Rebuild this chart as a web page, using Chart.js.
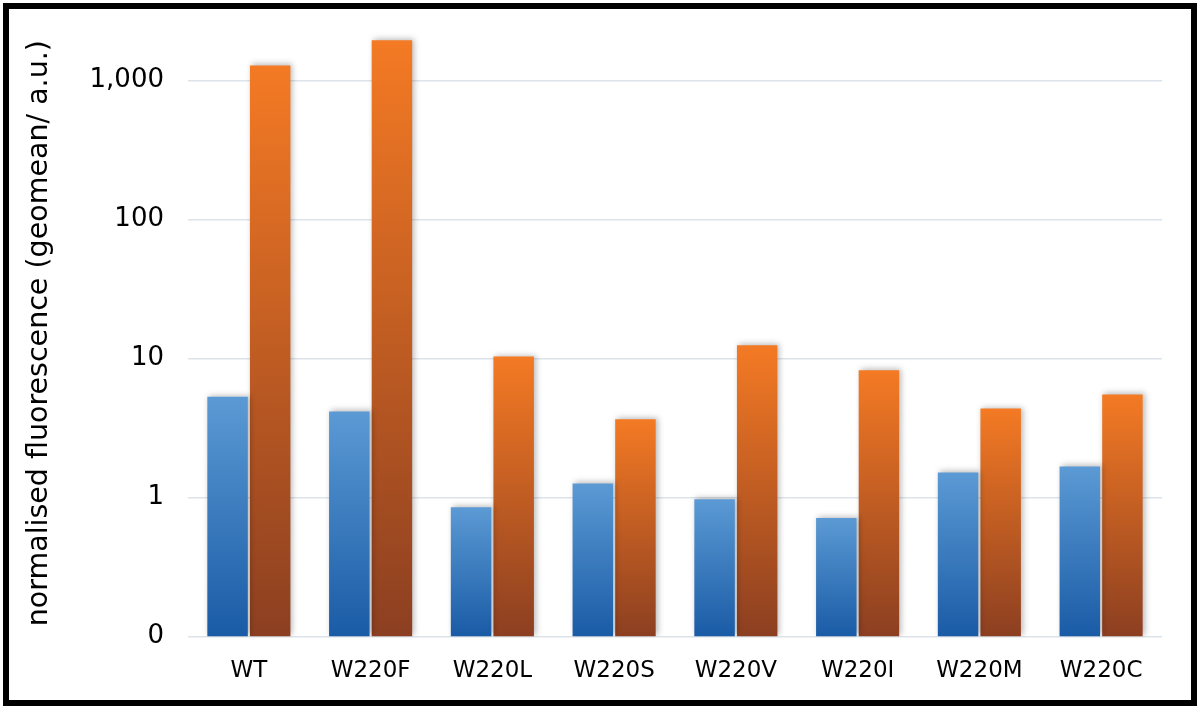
<!DOCTYPE html>
<html>
<head>
<meta charset="utf-8">
<script src="https://cdn.jsdelivr.net/npm/chart.js@4/dist/chart.umd.min.js"></script>
<style>
  html, body { margin: 0; padding: 0; background: #fff; }
  #wrap { width: 1200px; height: 709px; position: relative; }
</style>
</head>
<body>
<div id="wrap"><canvas id="fluoChart" width="1200" height="709"></canvas></div>
<script>
// data
const categories = ['WT', 'W220F', 'W220L', 'W220S', 'W220V', 'W220I', 'W220M', 'W220C'];
const blueValues = [5.3, 4.15, 0.85, 1.26, 0.97, 0.71, 1.51, 1.67];
const orangeValues = [1280, 1940, 10.3, 3.65, 12.4, 8.2, 4.35, 5.5];
const tickValues = [0.1, 1, 10, 100, 1000];
const tickLabels = ['0', '1', '10', '100', '1,000'];

// gradient running down each bar, from its top to the axis
function barGradient(context, topColor, bottomColor) {
    const chart = context.chart;
    const yScale = chart.scales.y;
    if (!chart.chartArea || !yScale || context.parsed === undefined) return topColor;
    const top = yScale.getPixelForValue(context.parsed.y);
    const bottom = chart.chartArea.bottom;
    if (!isFinite(top) || bottom - top < 1) return topColor;
    const g = chart.ctx.createLinearGradient(0, top, 0, bottom);
    g.addColorStop(0, topColor);
    g.addColorStop(1, bottomColor);
    return g;
}

const frame = {
    id: 'frame',
    afterDraw(chart) {
        const c = chart.ctx;
        c.save();
        c.strokeStyle = '#000';
        c.lineWidth = 6;
        c.strokeRect(6, 6, 1188, 697);
        c.restore();
    }
};

const shadow = {
    id: 'shadow',
    beforeDatasetsDraw(chart) {
        const c = chart.ctx;
        c.save();
        c.shadowColor = 'rgba(0,0,0,0.28)';
        c.shadowBlur = 6;
        c.shadowOffsetX = 2;
        c.shadowOffsetY = -1;
    },
    afterDatasetsDraw(chart) {
        chart.ctx.restore();
    }
};

const ctx = document.getElementById('fluoChart').getContext('2d');
const fluoChart = new Chart(ctx, {
    type: 'bar',
    data: {
        labels: categories,
        datasets: [{
            label: 'blue',
            data: blueValues,
            backgroundColor: c => barGradient(c, '#5b9ad4', '#1a5ba6'),
            borderWidth: 0,
            barPercentage: 0.95,
            categoryPercentage: 0.70
        }, {
            label: 'orange',
            data: orangeValues,
            backgroundColor: c => barGradient(c, '#f47a24', '#8c3f21'),
            borderWidth: 0,
            barPercentage: 0.95,
            categoryPercentage: 0.70
        }]
    },
    options: {
        responsive: false,
        animation: false,
        layout: {
            padding: { left: 22, right: 38, top: 30, bottom: 3 }
        },
        scales: {
            x: {
                grid: { display: false, drawTicks: false },
                border: { display: false },
                ticks: {
                    color: '#000',
                    padding: 21,
                    font: { family: 'DejaVu Sans', size: 23 }
                }
            },
            y: {
                type: 'logarithmic',
                min: 0.1,
                max: 2300,
                afterBuildTicks: axis => {
                    axis.ticks = tickValues.map(v => ({ value: v }));
                },
                afterFit: axis => {
                    axis.width = 166;
                    axis.paddingTop = 0;
                    axis.paddingBottom = 0;
                },
                grid: { color: '#dde3ea', lineWidth: 1.5, drawTicks: false },
                border: { display: false },
                ticks: {
                    color: '#000',
                    padding: 24,
                    autoSkip: false,
                    font: { family: 'DejaVu Sans', size: 26 },
                    callback: value => {
                        const i = tickValues.indexOf(value);
                        return i >= 0 ? tickLabels[i] : '';
                    }
                },
                title: {
                    display: true,
                    text: 'normalised fluorescence (geomean/ a.u.)',
                    color: '#000',
                    padding: 0,
                    font: { family: 'DejaVu Sans', size: 28.5 }
                }
            }
        },
        plugins: {
            legend: { display: false },
            tooltip: { enabled: false }
        }
    },
    plugins: [shadow, frame]
});
</script>
</body>
</html>
